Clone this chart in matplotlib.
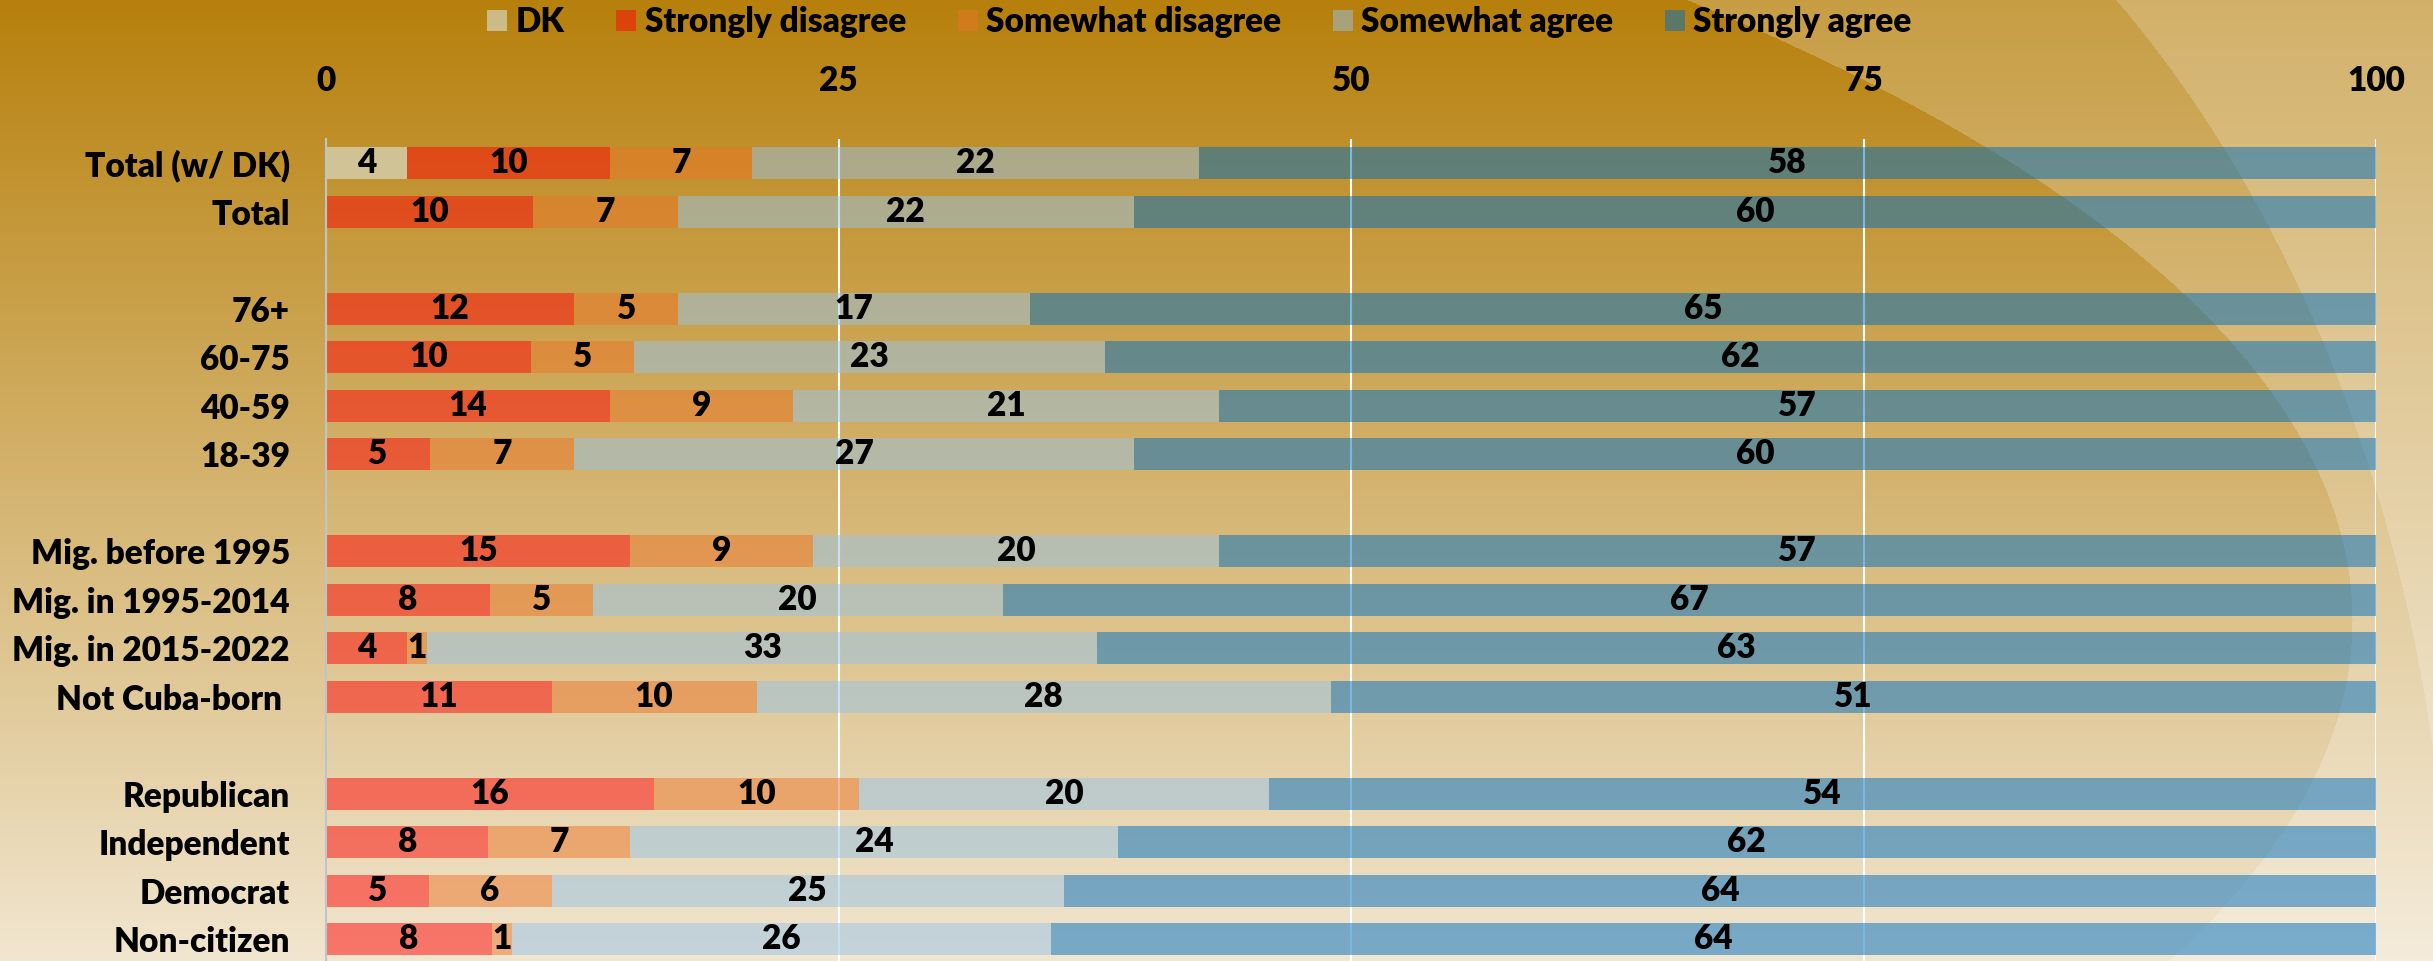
import numpy as np
import matplotlib
matplotlib.use('Agg')
import matplotlib.pyplot as plt

plt.rcParams['font.family'] = ['Lato', 'DejaVu Sans']
plt.rcParams['font.weight'] = 'heavy'
FS = 24

# Data
categories = ["Total (w/ DK)", "Total",
              "76+", "60-75", "40-59", "18-39",
              "Mig. before 1995", "Mig. in 1995-2014", "Mig. in 2015-2022", "Not Cuba-born ",
              "Republican", "Independent", "Democrat", "Non-citizen"]
dk = [4, 0, 0, 0, 0, 0, 0, 0, 0, 0, 0, 0, 0, 0]
strongly_disagree = [10, 10, 12, 10, 14, 5, 15, 8, 4, 11, 16, 8, 5, 8]
somewhat_disagree = [7, 7, 5, 5, 9, 7, 9, 5, 1, 10, 10, 7, 6, 1]
somewhat_agree = [22, 22, 17, 23, 21, 27, 20, 20, 33, 28, 20, 24, 25, 26]
strongly_agree = [58, 60, 65, 62, 57, 60, 57, 67, 63, 51, 54, 62, 64, 64]
group_breaks = [2, 6, 10]   # a blank row goes before these rows

series = [("DK", dk, "#DFF7FF"),
          ("Strongly disagree", strongly_disagree, "#FE0606"),
          ("Somewhat disagree", somewhat_disagree, "#EB7528"),
          ("Somewhat agree", somewhat_agree, "#98C3E6"),
          ("Strongly agree", strongly_agree, "#006EC0")]

W, H = 2433, 961
fig = plt.figure(figsize=(W / 100, H / 100), dpi=100)

# background: vertical gold -> cream gradient with two lighter sweeps on the right
yy, xx = np.mgrid[0:H, 0:W].astype(float)
t = (yy / (H - 1))[..., None]
top = np.array([183, 128, 12]) / 255
bot = np.array([241, 230, 208]) / 255
img = top * (1 - t) + bot * t
out1 = ((xx + 648) / 3000) ** 2 + ((yy - 620) / 988) ** 2 > 1
img[out1] = img[out1] * 0.77 + 0.23
out2 = (((xx - 1525) / 925) ** 2 + ((yy - 1000) / 1300) ** 2 > 1) & (xx > 1525)
img[out2] = img[out2] * 0.8 + 0.2
bg = fig.add_axes([0, 0, 1, 1], zorder=-1)
bg.imshow(img, aspect='auto', extent=(0, 1, 0, 1))
bg.axis('off')

ax = fig.add_axes([326 / W, -0.0026, 2050 / W, 0.858])
ax.set_facecolor('none')

ypos = [i + sum(1 for b in group_breaks if i >= b) for i in range(len(categories))]
rows = np.array([dk, strongly_disagree, somewhat_disagree, somewhat_agree, strongly_agree], float)
scale = 100 / rows.sum(axis=0)   # rounded values don't always add to 100
left = np.zeros(len(categories))
for name, vals, color in series:
    widths = np.array(vals, float) * scale
    ax.barh(ypos, widths, left=left, height=0.66, color=color, alpha=0.5,
            edgecolor='none', label=name)
    for y, l, w, v in zip(ypos, left, widths, vals):
        if v > 0:
            ax.text(l + w / 2, y, str(v), ha='center', va='center',
                    fontsize=FS, color='black')
    left = left + widths

ax.set_xlim(0, 100)
ax.set_ylim(16.5, -0.5)
ax.set_yticks(ypos)
ax.set_yticklabels(categories, fontsize=FS)
ax.set_xticks([0, 25, 50, 75, 100])
ax.xaxis.tick_top()
ax.tick_params(axis='x', length=0, pad=30, labelsize=FS)
ax.tick_params(axis='y', length=0, pad=26)
ax.grid(axis='x', color='white', lw=1.5)
ax.set_axisbelow(True)
for s in ['top', 'right', 'bottom']:
    ax.spines[s].set_visible(False)
ax.spines['left'].set_color('#BCC4CC')
ax.spines['left'].set_linewidth(1.5)

fig.legend(loc='center', bbox_to_anchor=(0.493, 0.977), ncol=5, frameon=False,
           fontsize=FS, handlelength=0.6, handleheight=0.6, handletextpad=0.25,
           columnspacing=1.55)

fig.savefig('out.png', dpi=100)
